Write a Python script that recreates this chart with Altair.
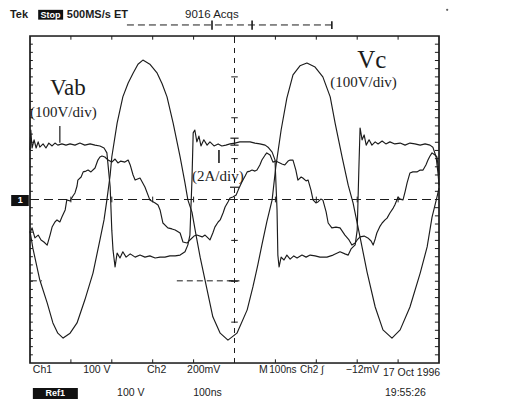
import altair as alt
import pandas as pd
import numpy as np

# ---------------- trace data ----------------
# time in ns (100 ns/div, 10 div), Vc in volts (100 V/div)
vc_t = [0, 7, 24, 42, 56, 68, 81, 98, 115, 134, 154, 171, 181, 188, 196, 200, 213, 227, 240, 252,
        264, 276, 293, 311, 323, 335, 350, 367, 379, 386, 396, 406, 416, 433, 447, 465, 484, 506,
        531, 545, 557, 567, 579, 592, 601, 614, 628, 643, 660, 677, 697, 716, 734, 746, 763, 778,
        790, 807, 824, 844, 863, 885, 905, 929, 954, 971, 983, 995, 1000]
vc_v = [-77, -119, -197, -253, -302, -327, -339, -327, -302, -246, -180, -99, -50, -1, 60, 104, 187,
        251, 285, 309, 331, 341, 331, 309, 283, 251, 187, 104, 40, -1, -31, -87, -141, -221, -287,
        -327, -344, -327, -270, -214, -160, -111, -55, -1, 80, 170, 248, 305, 327, 334, 324, 300,
        251, 187, 104, 35, -9, -92, -177, -263, -319, -339, -319, -263, -180, -116, -43, 6, 28]

# Vab in volts (100 V/div)
vab_t = [0, 2, 5, 10, 15, 20, 24, 32, 39, 46, 54, 61, 68, 78, 88, 98, 110, 122, 134, 147, 159, 171,
         181, 188, 196, 200, 203, 208, 213, 220, 227, 235, 245, 257, 269, 281, 293, 306, 318, 330,
         342, 355, 367, 379, 386, 391, 396, 399, 403, 408, 413, 418, 425, 433, 440, 450, 460, 469,
         479, 489, 501, 513, 526, 538, 550, 562, 575, 582, 592, 599, 604, 606, 609, 614, 621, 628,
         636, 645, 653, 665, 675, 685, 697, 709, 726, 741, 758, 770, 778, 785, 795, 800, 804, 807,
         812, 817, 822, 829, 836, 844, 851, 861, 870, 880, 892, 905, 917, 929, 941, 954, 966, 978,
         985, 993, 998, 1000]
vab_v = [121, 170, 126, 146, 126, 141, 128, 136, 126, 138, 131, 138, 133, 136, 133, 136, 133, 138,
         133, 136, 133, 131, 126, 114, 31, -75, -124, -165, -131, -143, -128, -141, -133, -141, -136,
         -141, -138, -143, -141, -141, -138, -138, -136, -128, -111, -87, 48, 163, 170, 141, 155,
         131, 146, 133, 141, 131, 136, 131, 133, 136, 138, 141, 141, 141, 138, 136, 133, 128, 116,
         97, -26, -136, -165, -141, -148, -136, -146, -138, -143, -136, -141, -136, -138, -141,
         -141, -136, -128, -133, -136, -121, -111, -75, 72, 175, 146, 158, 133, 146, 133, 141, 136,
         143, 136, 141, 136, 138, 133, 138, 136, 133, 136, 133, 128, 104, 60, 35]

# inductor current in amperes (2 A/div)
i_t = [0, 5, 12, 20, 27, 34, 42, 49, 54, 61, 66, 73, 78, 86, 90, 98, 105, 110, 115, 117, 125, 130,
       137, 142, 149, 159, 166, 171, 176, 183, 191, 200, 208, 215, 222, 232, 240, 245, 252, 257,
       269, 281, 293, 306, 313, 318, 325, 337, 347, 355, 367, 374, 384, 391, 401, 408, 421, 428,
       435, 440, 447, 452, 460, 465, 472, 477, 484, 489, 496, 504, 509, 518, 526, 531, 538, 543,
       550, 555, 562, 567, 575, 579, 587, 594, 601, 606, 616, 623, 631, 636, 643, 650, 655, 663,
       667, 675, 680, 687, 692, 699, 704, 711, 716, 724, 729, 738, 748, 758, 770, 780, 787, 795,
       800, 807, 817, 826, 834, 839, 844, 848, 856, 861, 868, 873, 880, 888, 892, 900, 905, 912,
       917, 922, 929, 936, 946, 954, 961, 968, 973, 978, 983, 990, 995, 998, 1000]
i_a = [-1.64, -1.39, -1.88, -1.74, -1.98, -2.08, -2.23, -1.74, -1.35, -1.10, -1.00, -1.10, -0.86,
       -0.51, -0.02, -0.07, 0.17, 0.32, 0.66, 0.95, 1.10, 1.35, 1.39, 1.44, 1.35, 1.54, 1.93, 2.08,
       2.13, 2.08, 1.93, 1.83, 1.98, 1.79, 1.88, 1.83, 1.93, 1.69, 1.20, 0.95, 1.05, 0.61, -0.02,
       -0.17, -0.27, -0.51, -1.15, -1.39, -1.44, -1.49, -1.64, -2.08, -2.13, -1.98, -1.79, -1.74,
       -1.83, -1.74, -1.88, -1.98, -1.64, -1.35, -1.10, -1.00, -0.66, -0.37, -0.12, 0.07, 0.12,
       0.22, 0.46, 0.86, 1.15, 1.35, 1.39, 1.44, 1.39, 1.44, 1.69, 1.93, 2.18, 2.28, 2.18, 1.83,
       1.88, 1.83, 1.74, 1.69, 1.88, 1.93, 1.93, 1.44, 0.95, 1.10, 1.05, 0.91, 0.95, 0.46, -0.02,
       -0.17, -0.12, 0.02, -0.02, -0.61, -1.15, -1.39, -1.35, -1.39, -1.74, -1.98, -2.23, -2.13,
       -1.98, -1.83, -1.79, -1.88, -2.03, -2.23, -1.93, -1.64, -1.30, -1.15, -1.00, -0.91, -0.66,
       -0.42, -0.27, 0.12, 0.02, -0.02, 0.37, 0.81, 1.30, 1.35, 1.35, 1.44, 1.44, 1.69, 1.93, 2.13,
       2.28, 2.18, 2.08, 1.59, 1.20]

V_PER_DIV = 100.0
A_PER_DIV = 2.0

frames = []
for name, t, v, scale in [("Vc", vc_t, vc_v, V_PER_DIV), ("Vab", vab_t, vab_v, V_PER_DIV),
                          ("I", i_t, i_a, A_PER_DIV)]:
    frames.append(pd.DataFrame({"t": t, "div": np.array(v, dtype=float) / scale,
                                "trace": name, "k": np.arange(len(t))}))
traces_df = pd.concat(frames, ignore_index=True)

INK = "#1c1c1c"
XS = alt.Scale(domain=[0, 1000], nice=False, zero=False)
YS = alt.Scale(domain=[-4, 4], nice=False, zero=False)


def X(f):
    return alt.X(f"{f}:Q", scale=XS, axis=None)


def Y(f):
    return alt.Y(f"{f}:Q", scale=YS, axis=None)


def segs(rows):
    return pd.DataFrame(rows, columns=["x0", "x1", "y0", "y1"])


def rules(df, **kw):
    return alt.Chart(df).mark_rule(color=INK, **kw).encode(
        x=X("x0"), x2="x1", y=Y("y0"), y2="y1")


layers = []

# ---------------- graticule ----------------
frame = alt.Chart(segs([(0, 1000, -4, 4)])).mark_rect(
    fillOpacity=0, stroke=INK, strokeWidth=1.7).encode(
    x=X("x0"), x2="x1", y=Y("y0"), y2="y1")
layers.append(frame)

layers.append(rules(segs([(0, 1000, 0, 0)]), strokeWidth=1, strokeDash=[9, 5]))
layers.append(rules(segs([(500, 500, -4, 4)]), strokeWidth=1, strokeDash=[5, 5]))

ticks = []
for yv in np.arange(-3.8, 3.81, 0.2):
    ticks.append((0, 7, yv, yv))
    ticks.append((990, 1000, yv, yv))
for xv in np.arange(100, 1000, 100):
    ticks.append((xv, xv, 4, 3.91))
    ticks.append((xv, xv, -4, -3.91))
    ticks.append((xv, xv, -0.07, 0.07))
for yv in np.arange(-3, 4, 1):
    ticks.append((492, 508, yv, yv))
layers.append(rules(segs(ticks), strokeWidth=1))

# cursor / marker decorations
layers.append(rules(segs([(359, 496, -1.99, -1.99), (2, 29, -1.99, -1.99)]),
                    strokeWidth=1, strokeDash=[6, 4]))
layers.append(rules(segs([
    (486, 512, -1.99, -1.99),
    (490, 510, 1.50, 1.50),
    (490, 510, 1.33, 1.33),
    (500, 500, 1.50, 1.33),
    (489, 511, 0.30, 0.30),
    (73, 73, 1.39, 1.80),
]), strokeWidth=1.2))
layers.append(rules(segs([(237, 738, 4.27, 4.27)]), strokeWidth=1, strokeDash=[7, 4]))
layers.append(rules(segs([
    (445, 445, 4.15, 4.38), (543, 543, 4.15, 4.38), (738, 738, 4.17, 4.36),
    (462, 462, 0.89, 1.21),
]), strokeWidth=1.6))

# ---------------- traces ----------------
layers.append(alt.Chart(traces_df).mark_line(color=INK, strokeWidth=1.15, strokeJoin="round").encode(
    x=X("t"), y=Y("div"), detail="trace:N", order="k:Q"))

# ---------------- black boxes ----------------
layers.append(alt.Chart(segs([
    (20, 81, 4.64, 4.40),
    (-46, -3, 0.11, -0.16),
    (7, 117, -4.61, -4.88),
])).mark_rect(color="#111").encode(x=X("x0"), x2="x1", y=Y("y0"), y2="y1"))


def label(text, t, y, size, font="Liberation Sans", weight="normal", color=INK, align="left"):
    return alt.Chart(pd.DataFrame({"t": [t], "y": [y], "s": [text]})).mark_text(
        font=font, fontSize=size, fontWeight=weight, color=color, align=align,
        baseline="middle").encode(x=X("t"), y=Y("y"), text="s:N")


SANS = "Liberation Sans"
SERIF = "Liberation Serif"
FS = 10.5
layers += [
    label("Tek", -49, 4.52, 11, SANS, "bold"),
    label("Stop", 50, 4.52, 9, SANS, "bold", "white", "center"),
    label("500MS/s ET", 90, 4.52, 11, SANS, "bold"),
    label("9016 Acqs", 379, 4.52, 11.5, SANS),
    label("1", -24, -0.02, 9, SANS, "bold", "white", "center"),
    label("Ch1", 7, -4.17, FS, SANS),
    label("100 V", 130, -4.17, FS, SANS),
    label("Ch2", 286, -4.17, FS, SANS),
    label("200mV", 384, -4.17, FS, SANS),
    label("M", 560, -4.17, FS, SANS),
    label("100ns", 585, -4.17, 10, SANS),
    label("Ch2 \u222b", 660, -4.17, 10, SANS),
    label("\u221212mV", 772, -4.17, FS, SANS),
    label("17 Oct 1996", 863, -4.24, FS, SANS),
    label("19:55:26", 868, -4.73, FS, SANS),
    label("Ref1", 62, -4.745, 9, SANS, "bold", "white", "center"),
    label("100 V", 213, -4.745, FS, SANS),
    label("100ns", 399, -4.745, FS, SANS),
    label("Vab", 49, 2.73, 23, SERIF),
    label("(100V/div)", 0, 2.14, 15, SERIF),
    label("Vc", 800, 3.41, 25, SERIF),
    label("(100V/div)", 734, 2.87, 15, SERIF),
    label("(2A/div)", 396, 0.57, 15, SERIF),
]

layers.append(alt.Chart(pd.DataFrame({"t": [1020], "y": [4.64]})).mark_point(
    filled=True, size=5, color=INK).encode(x=X("t"), y=Y("y")))

chart = alt.layer(*layers).properties(
    width=409, height=327,
    padding={"left": 22, "top": 28, "right": 70, "bottom": 40},
    autosize=alt.AutoSizeParams(type="none"),
).configure_view(stroke=None).configure(background="white")

chart.save("out.html", embed_options={"renderer": "svg", "actions": False})
